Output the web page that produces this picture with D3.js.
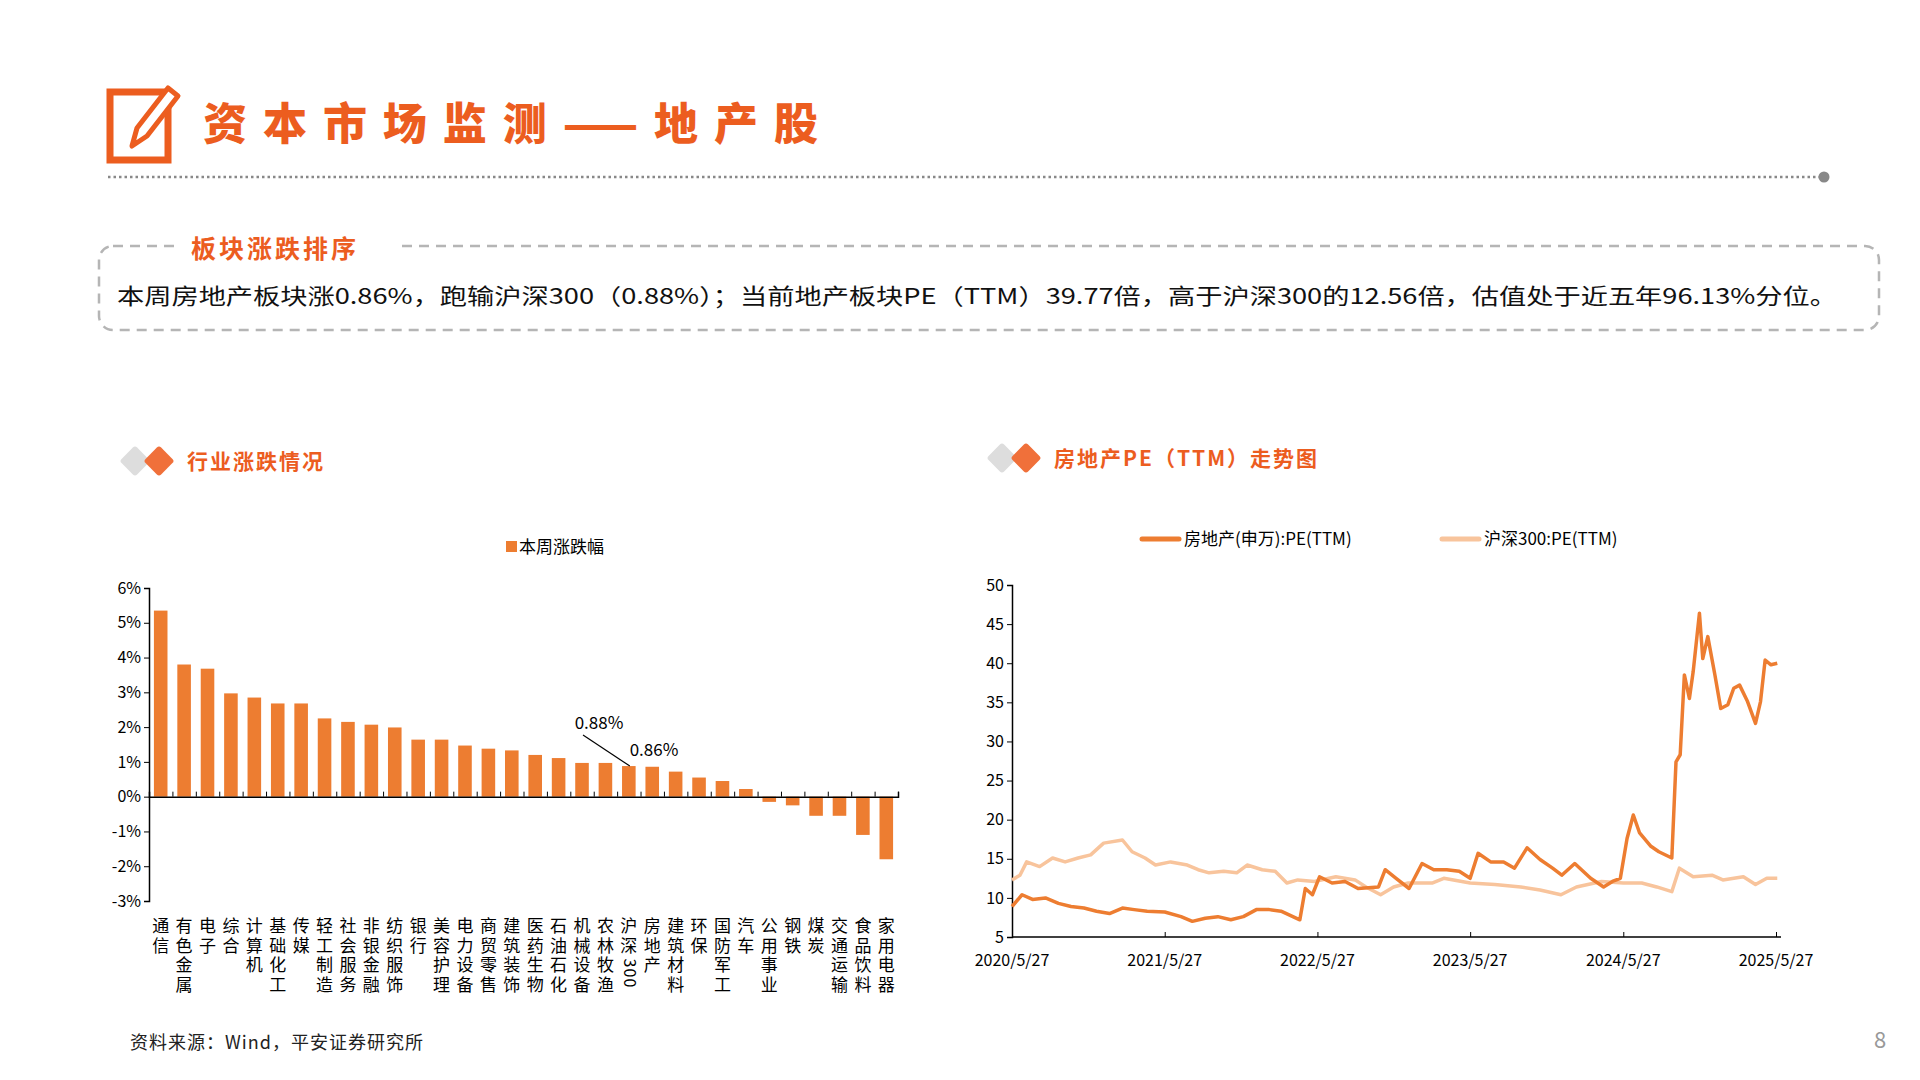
<!DOCTYPE html>
<html><head><meta charset="utf-8">
<script src="https://cdn.jsdelivr.net/npm/d3@7"></script>
<style>body{margin:0;background:#fff}svg{display:block}text{font-family:"Noto Sans CJK SC","Noto Sans",sans-serif}</style>
</head><body><svg id="c" width="1920" height="1080"></svg>
<script>
const categories=["通信","有色金属","电子","综合","计算机","基础化工","传媒","轻工制造","社会服务","非银金融","纺织服饰","银行","美容护理","电力设备","商贸零售","建筑装饰","医药生物","石油石化","机械设备","农林牧渔","沪深300","房地产","建筑材料","环保","国防军工","汽车","公用事业","钢铁","煤炭","交通运输","食品饮料","家用电器"];
const weekChange=[5.35,3.8,3.68,2.97,2.85,2.68,2.68,2.25,2.15,2.07,1.99,1.64,1.64,1.47,1.38,1.33,1.2,1.11,0.97,0.97,0.88,0.86,0.72,0.55,0.45,0.22,-0.15,-0.25,-0.55,-0.55,-1.1,-1.8];
const barTicks=[-3,-2,-1,0,1,2,3,4,5,6];
const reDates=["2020-05-27","2020-06-20","2020-07-15","2020-08-15","2020-09-15","2020-10-15","2020-11-15","2020-12-15","2021-01-15","2021-02-15","2021-03-15","2021-04-15","2021-05-27","2021-07-05","2021-08-01","2021-09-01","2021-10-01","2021-11-01","2021-12-01","2022-01-01","2022-02-01","2022-03-01","2022-04-15","2022-04-28","2022-05-15","2022-06-01","2022-07-01","2022-08-01","2022-09-01","2022-10-20","2022-11-05","2022-12-01","2023-01-01","2023-02-01","2023-03-01","2023-04-01","2023-05-01","2023-05-27","2023-06-15","2023-07-15","2023-08-15","2023-09-10","2023-10-10","2023-11-10","2023-12-10","2024-01-01","2024-02-01","2024-03-10","2024-04-10","2024-05-01","2024-05-20","2024-06-05","2024-06-20","2024-07-05","2024-08-01","2024-08-20","2024-09-20","2024-09-30","2024-10-10","2024-10-20","2024-11-01","2024-11-10","2024-11-25","2024-12-03","2024-12-15","2025-01-01","2025-01-15","2025-02-01","2025-02-15","2025-03-01","2025-03-20","2025-04-08","2025-04-20","2025-05-01","2025-05-15","2025-05-30"];
const reValues=[8.9,10.4,9.8,10.0,9.3,8.9,8.7,8.3,8.0,8.7,8.5,8.3,8.2,7.6,7.0,7.4,7.6,7.2,7.6,8.5,8.5,8.3,7.2,11.2,10.4,12.7,11.9,12.1,11.2,11.4,13.6,12.5,11.2,14.4,13.6,13.6,13.4,12.5,15.7,14.6,14.6,13.8,16.4,14.9,13.8,12.9,14.4,12.5,11.4,12.1,12.5,17.6,20.6,18.3,16.6,15.9,15.1,27.4,28.3,38.5,35.5,38.9,46.4,40.6,43.4,38.5,34.2,34.7,36.8,37.2,35.1,32.3,35.1,40.4,39.8,40.0];
const hsDates=["2020-05-27","2020-06-15","2020-07-01","2020-08-01","2020-09-01","2020-10-01","2020-11-01","2020-12-01","2021-01-01","2021-02-15","2021-03-10","2021-04-10","2021-05-05","2021-06-10","2021-07-20","2021-08-15","2021-09-10","2021-10-15","2021-11-15","2021-12-10","2022-01-15","2022-02-15","2022-03-15","2022-04-10","2022-05-20","2022-07-10","2022-08-25","2022-09-20","2022-10-25","2022-11-25","2022-12-30","2023-02-25","2023-03-25","2023-05-27","2023-07-25","2023-09-25","2023-11-10","2023-12-30","2024-02-05","2024-04-05","2024-05-27","2024-07-10","2024-08-15","2024-09-20","2024-10-08","2024-11-10","2024-12-25","2025-01-20","2025-03-10","2025-04-08","2025-05-05","2025-05-30"];
const hsValues=[12.3,12.9,14.6,14.0,15.1,14.6,15.1,15.5,17.0,17.4,15.9,15.1,14.2,14.6,14.2,13.6,13.2,13.4,13.2,14.2,13.6,13.4,11.9,12.3,12.1,12.7,12.3,11.4,10.4,11.4,11.9,11.9,12.5,11.9,11.7,11.4,11.0,10.4,11.4,12.1,11.9,11.9,11.4,10.8,13.8,12.7,12.9,12.3,12.7,11.7,12.5,12.5];
const peTicks=[5,10,15,20,25,30,35,40,45,50];
const xTickDates=["2020-05-27","2021-05-27","2022-05-27","2023-05-27","2024-05-27","2025-05-27"];
const xTickLabels=["2020/5/27","2021/5/27","2022/5/27","2023/5/27","2024/5/27","2025/5/27"];
const headline="本周房地产板块涨0.86%，跑输沪深300（0.88%）；当前地产板块PE（TTM）39.77倍，高于沪深300的12.56倍，估值处于近五年96.13%分位。";

const svg=d3.select("#c");
const OR="#ED7D31", LT="#F8C49C", TITLE="#EC5D1F";

svg.append("rect").attr("x",110).attr("y",92).attr("width",58).attr("height",68).attr("fill","none").attr("stroke",TITLE).attr("stroke-width",7);
svg.append("path").attr("d","M132 146 L137 128 L168 88 L178 96 L147 136 Z").attr("fill","#fff").attr("stroke",TITLE).attr("stroke-width",5).attr("stroke-linejoin","round");
svg.append("text").attr("x",203).attr("y",140).attr("font-size",44).attr("font-weight",900).attr("fill",TITLE).attr("textLength",615).attr("lengthAdjust","spacing").text("资本市场监测——地产股");
svg.append("line").attr("x1",108).attr("x2",1822).attr("y1",177).attr("y2",177).attr("stroke","#888").attr("stroke-width",2.5).attr("stroke-dasharray","2.5,3");
svg.append("circle").attr("cx",1824).attr("cy",177).attr("r",5.5).attr("fill","#888");

svg.append("rect").attr("x",99).attr("y",246).attr("width",1780).attr("height",84).attr("rx",14).attr("fill","none").attr("stroke","#b5b5b5").attr("stroke-width",2.5).attr("stroke-dasharray","10,7");
svg.append("rect").attr("x",176).attr("y",232).attr("width",226).attr("height",30).attr("fill","#fff");
svg.append("text").attr("x",191).attr("y",258).attr("font-size",25).attr("font-weight",700).attr("fill",TITLE).attr("letter-spacing",3).text("板块涨跌排序");
svg.append("text").attr("x",117).attr("y",304).attr("font-size",22).attr("fill","#111").attr("textLength",1720).attr("lengthAdjust","spacingAndGlyphs").text(headline);

function secHead(x,y,label){
  svg.append("rect").attr("x",x-11).attr("y",y-11).attr("width",22).attr("height",22).attr("rx",3).attr("fill","#ddd").attr("transform",`rotate(45 ${x} ${y})`);
  svg.append("rect").attr("x",x+24-11).attr("y",y-11).attr("width",22).attr("height",22).attr("rx",3).attr("fill","#F0703A").attr("transform",`rotate(45 ${x+24} ${y})`);
  svg.append("text").attr("x",x+52).attr("y",y+8).attr("font-size",21).attr("font-weight",700).attr("fill",TITLE).attr("letter-spacing",2).text(label);
}
secHead(135,461,"行业涨跌情况");
secHead(1002,458,"房地产PE（TTM）走势图");

const bx=d3.scaleBand().domain(categories).range([149,898]).paddingInner(0.42).paddingOuter(0.21);
const by=d3.scaleLinear().domain([-3,6]).range([901,588]);
const bg=svg.append("g");
bg.selectAll("rect.b").data(weekChange).join("rect").attr("fill",OR)
  .attr("x",(d,i)=>bx(categories[i])).attr("width",bx.bandwidth())
  .attr("y",d=>by(Math.max(0,d))).attr("height",d=>Math.abs(by(d)-by(0)));
bg.append("g").attr("transform","translate(149,0)").call(d3.axisLeft(by).tickValues(barTicks).tickFormat(d=>d+"%").tickSize(5))
  .call(g=>{g.select(".domain").attr("stroke","#000").attr("stroke-width",1.5);g.selectAll("text").attr("font-size",16).attr("fill","#000").attr("font-family","Liberation Sans, Arial");});
bg.append("g").attr("transform",`translate(0,${by(0)})`).call(d3.axisTop(d3.scaleLinear().domain([0,categories.length]).range([149,898])).tickValues(d3.range(0,categories.length+1)).tickSize(5).tickFormat(""))
  .call(g=>{g.select(".domain").attr("stroke","#000").attr("stroke-width",1.5);});
categories.forEach(c=>{
  const cx=bx(c)+bx.bandwidth()/2;
  let y=932;
  [...c].forEach(ch=>{
    if(/\d/.test(ch)){
      bg.append("text").attr("x",cx).attr("y",y-8).attr("text-anchor","middle").attr("font-size",16).attr("dy",5).attr("transform",`rotate(90 ${cx} ${y-8})`).attr("font-family","Liberation Sans, Arial").text(ch);
      y+=10;
    } else {
      bg.append("text").attr("x",cx).attr("y",y+y*0-0).attr("text-anchor","middle").attr("font-size",17).attr("fill","#000").text(ch);
      y+=19.5;
    }
  });
});
bg.append("rect").attr("x",506).attr("y",541).attr("width",11).attr("height",11).attr("fill",OR);
bg.append("text").attr("x",519).attr("y",553).attr("font-size",17).attr("fill","#000").text("本周涨跌幅");
const iHS=categories.indexOf("沪深300"), iRE=categories.indexOf("房地产");
const hx=bx(categories[iHS])+bx.bandwidth()/2;
bg.append("line").attr("x1",583).attr("y1",735).attr("x2",hx+1).attr("y2",by(weekChange[iHS])).attr("stroke","#000").attr("stroke-width",1.2);
bg.append("text").attr("x",599).attr("y",729).attr("text-anchor","middle").attr("font-size",17).attr("font-family","Liberation Sans, Arial").text(weekChange[iHS].toFixed(2)+"%");
bg.append("text").attr("x",654).attr("y",756).attr("text-anchor","middle").attr("font-size",17).attr("font-family","Liberation Sans, Arial").text(weekChange[iRE].toFixed(2)+"%");

const pd=d3.timeParse("%Y-%m-%d");
const lx=d3.scaleTime().domain([pd("2020-05-27"),pd("2025-05-27")]).range([1012,1776]);
const ly=d3.scaleLinear().domain([5,50]).range([937,585]);
const lg=svg.append("g");
lg.append("g").attr("transform","translate(1012,0)").call(d3.axisLeft(ly).tickValues(peTicks).tickSize(5))
  .call(g=>{g.select(".domain").attr("stroke","#000").attr("stroke-width",1.5);g.selectAll("text").attr("font-size",16).attr("fill","#000").attr("font-family","Liberation Sans, Arial");});
lg.append("g").attr("transform","translate(0,937)").call(d3.axisTop(lx).tickValues(xTickDates.map(pd)).tickSize(5).tickFormat(""))
  .call(g=>{g.select(".domain").attr("stroke","#000").attr("stroke-width",1.5).attr("d","M1012,0H1781");});
xTickDates.forEach((d,i)=>lg.append("text").attr("x",lx(pd(d))).attr("y",966).attr("text-anchor","middle").attr("font-size",16).attr("font-family","Liberation Sans, Arial").text(xTickLabels[i]));
const line=d3.line().x(d=>lx(d[0])).y(d=>ly(d[1]));
lg.append("path").datum(hsDates.map((d,i)=>[pd(d),hsValues[i]])).attr("d",line).attr("fill","none").attr("stroke",LT).attr("stroke-width",3.5).attr("stroke-linejoin","round");
lg.append("path").datum(reDates.map((d,i)=>[pd(d),reValues[i]])).attr("d",line).attr("fill","none").attr("stroke",OR).attr("stroke-width",3.5).attr("stroke-linejoin","round");
lg.append("line").attr("x1",1142).attr("x2",1179).attr("y1",539).attr("y2",539).attr("stroke",OR).attr("stroke-width",5).attr("stroke-linecap","round");
lg.append("text").attr("x",1184).attr("y",545).attr("font-size",17).text("房地产(申万):PE(TTM)");
lg.append("line").attr("x1",1442).attr("x2",1479).attr("y1",539).attr("y2",539).attr("stroke",LT).attr("stroke-width",5).attr("stroke-linecap","round");
lg.append("text").attr("x",1484).attr("y",545).attr("font-size",17).text("沪深300:PE(TTM)");

svg.append("text").attr("x",130).attr("y",1049).attr("font-size",18).attr("fill","#222").attr("letter-spacing",1).text("资料来源：Wind，平安证券研究所");
svg.append("text").attr("x",1880).attr("y",1048).attr("text-anchor","middle").attr("font-size",22).attr("fill","#999").text("8");
</script></body></html>
